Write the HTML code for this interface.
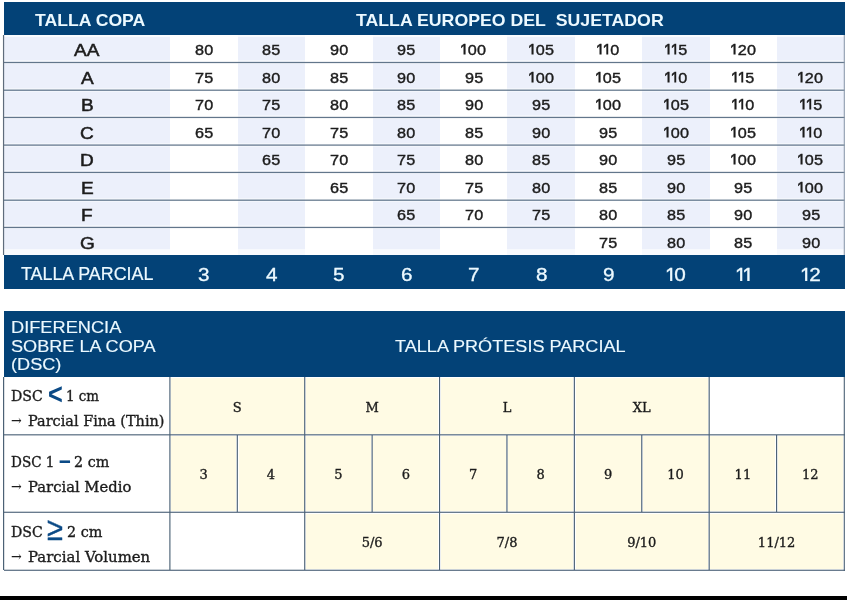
<!DOCTYPE html>
<html lang="es"><head><meta charset="utf-8"><title>Tabla de tallas</title>
<style>
html,body{margin:0;padding:0;background:#fff;}
body{width:847px;height:600px;position:relative;overflow:hidden;font-family:"Liberation Sans",sans-serif;}
.b{position:absolute;}
.t{position:absolute;white-space:pre;transform-origin:0 50%;}
.o,.p{display:inline-block;clip-path:inset(0 0 0.265em 0);transform-origin:50% 15.5%;transform:scaleY(1.18);}
.o{margin:0 -1.3px 0 -1.2px;}
.p{margin:0 -2.0px 0 -1.7px;}
</style></head>
<body>
<div class="b" style="left:3.50px;top:2.00px;width:841.20px;height:33.00px;background:#034277;"></div>
<div class="t" style="left:35.20px;top:12.00px;font-size:16.2px;line-height:16.2px;color:#ecf9ff;font-family:'Liberation Sans', sans-serif;font-weight:bold;transform:scaleX(1.0887);">TALLA COPA</div>
<div class="t" style="left:355.50px;top:12.00px;font-size:16.2px;line-height:16.2px;color:#ecf9ff;font-family:'Liberation Sans', sans-serif;font-weight:bold;transform:scaleX(1.0942);">TALLA EUROPEO DEL&nbsp; SUJETADOR</div>
<div class="b" style="left:3.50px;top:35.00px;width:166.70px;height:220.00px;background:#ecf0fb;"></div>
<div class="b" style="left:237.65px;top:35.00px;width:67.45px;height:220.00px;background:#ecf0fb;"></div>
<div class="b" style="left:372.55px;top:35.00px;width:67.45px;height:220.00px;background:#ecf0fb;"></div>
<div class="b" style="left:507.45px;top:35.00px;width:67.45px;height:220.00px;background:#ecf0fb;"></div>
<div class="b" style="left:642.35px;top:35.00px;width:67.45px;height:220.00px;background:#ecf0fb;"></div>
<div class="b" style="left:777.25px;top:35.00px;width:67.45px;height:220.00px;background:#ecf0fb;"></div>
<div class="b" style="left:3.50px;top:60.00px;width:841.20px;height:2.00px;background:rgba(255,255,255,.4);"></div>
<div class="b" style="left:3.50px;top:63.00px;width:841.20px;height:1.00px;background:rgba(255,255,255,.4);"></div>
<div class="b" style="left:3.50px;top:88.00px;width:841.20px;height:2.00px;background:rgba(255,255,255,.4);"></div>
<div class="b" style="left:3.50px;top:91.00px;width:841.20px;height:1.00px;background:rgba(255,255,255,.4);"></div>
<div class="b" style="left:3.50px;top:115.00px;width:841.20px;height:2.00px;background:rgba(255,255,255,.4);"></div>
<div class="b" style="left:3.50px;top:118.00px;width:841.20px;height:1.00px;background:rgba(255,255,255,.4);"></div>
<div class="b" style="left:3.50px;top:143.00px;width:841.20px;height:2.00px;background:rgba(255,255,255,.4);"></div>
<div class="b" style="left:3.50px;top:146.00px;width:841.20px;height:1.00px;background:rgba(255,255,255,.4);"></div>
<div class="b" style="left:3.50px;top:170.00px;width:841.20px;height:2.00px;background:rgba(255,255,255,.4);"></div>
<div class="b" style="left:3.50px;top:173.00px;width:841.20px;height:1.00px;background:rgba(255,255,255,.4);"></div>
<div class="b" style="left:3.50px;top:198.00px;width:841.20px;height:2.00px;background:rgba(255,255,255,.4);"></div>
<div class="b" style="left:3.50px;top:201.00px;width:841.20px;height:1.00px;background:rgba(255,255,255,.4);"></div>
<div class="b" style="left:3.50px;top:225.00px;width:841.20px;height:2.00px;background:rgba(255,255,255,.4);"></div>
<div class="b" style="left:3.50px;top:228.00px;width:841.20px;height:1.00px;background:rgba(255,255,255,.4);"></div>
<div class="b" style="left:4px;top:61px;width:841px;height:1px;background:rgba(98,118,139,0.12);"></div>
<div class="b" style="left:4px;top:62px;width:841px;height:1px;background:rgba(98,118,139,1.00);"></div>
<div class="b" style="left:4px;top:63px;width:841px;height:1px;background:rgba(98,118,139,0.12);"></div>
<div class="b" style="left:4px;top:89px;width:841px;height:1px;background:rgba(98,118,139,0.42);"></div>
<div class="b" style="left:4px;top:90px;width:841px;height:1px;background:rgba(98,118,139,0.83);"></div>
<div class="b" style="left:4px;top:116px;width:841px;height:1px;background:rgba(98,118,139,0.17);"></div>
<div class="b" style="left:4px;top:117px;width:841px;height:1px;background:rgba(98,118,139,1.00);"></div>
<div class="b" style="left:4px;top:118px;width:841px;height:1px;background:rgba(98,118,139,0.08);"></div>
<div class="b" style="left:4px;top:144px;width:841px;height:1px;background:rgba(98,118,139,0.53);"></div>
<div class="b" style="left:4px;top:145px;width:841px;height:1px;background:rgba(98,118,139,0.72);"></div>
<div class="b" style="left:4px;top:171px;width:841px;height:1px;background:rgba(98,118,139,0.18);"></div>
<div class="b" style="left:4px;top:172px;width:841px;height:1px;background:rgba(98,118,139,1.00);"></div>
<div class="b" style="left:4px;top:173px;width:841px;height:1px;background:rgba(98,118,139,0.07);"></div>
<div class="b" style="left:4px;top:199px;width:841px;height:1px;background:rgba(98,118,139,0.43);"></div>
<div class="b" style="left:4px;top:200px;width:841px;height:1px;background:rgba(98,118,139,0.82);"></div>
<div class="b" style="left:4px;top:226px;width:841px;height:1px;background:rgba(98,118,139,0.18);"></div>
<div class="b" style="left:4px;top:227px;width:841px;height:1px;background:rgba(98,118,139,1.00);"></div>
<div class="b" style="left:4px;top:228px;width:841px;height:1px;background:rgba(98,118,139,0.07);"></div>
<div class="b" style="left:3.50px;top:35.00px;width:841.20px;height:2.00px;background:rgba(255,255,255,.7);"></div>
<div class="b" style="left:3.50px;top:249.00px;width:841.20px;height:6.00px;background:rgba(255,255,255,.6);"></div>
<div class="b" style="left:2px;top:35px;width:1px;height:220px;background:rgba(95,108,124,0.05);"></div>
<div class="b" style="left:3px;top:35px;width:1px;height:220px;background:rgba(95,108,124,1.00);"></div>
<div class="b" style="left:4px;top:35px;width:1px;height:220px;background:rgba(95,108,124,0.15);"></div>
<div class="b" style="left:843px;top:35px;width:1px;height:220px;background:rgba(143,156,173,0.25);"></div>
<div class="b" style="left:844px;top:35px;width:1px;height:220px;background:rgba(143,156,173,0.85);"></div>
<div class="t" style="left:74.46px;top:42.00px;font-size:16.4px;line-height:16.4px;color:#1c1c1c;font-family:'Liberation Sans', sans-serif;transform:scaleX(1.1600);-webkit-text-stroke:0.5px #1c1c1c;">AA</div>
<div class="t" style="left:194.75px;top:42.00px;font-size:15.0px;line-height:15.0px;color:#1c1c1c;font-family:'Liberation Sans', sans-serif;letter-spacing:0.3px;transform:scaleX(1.0800);-webkit-text-stroke:0.4px #1c1c1c;">80</div>
<div class="t" style="left:262.20px;top:42.00px;font-size:15.0px;line-height:15.0px;color:#1c1c1c;font-family:'Liberation Sans', sans-serif;letter-spacing:0.3px;transform:scaleX(1.0800);-webkit-text-stroke:0.4px #1c1c1c;">85</div>
<div class="t" style="left:329.65px;top:42.00px;font-size:15.0px;line-height:15.0px;color:#1c1c1c;font-family:'Liberation Sans', sans-serif;letter-spacing:0.3px;transform:scaleX(1.0800);-webkit-text-stroke:0.4px #1c1c1c;">90</div>
<div class="t" style="left:397.10px;top:42.00px;font-size:15.0px;line-height:15.0px;color:#1c1c1c;font-family:'Liberation Sans', sans-serif;letter-spacing:0.3px;transform:scaleX(1.0800);-webkit-text-stroke:0.4px #1c1c1c;">95</div>
<div class="t" style="left:461.21px;top:42.00px;font-size:15.0px;line-height:15.0px;color:#1c1c1c;font-family:'Liberation Sans', sans-serif;letter-spacing:0.3px;transform:scaleX(1.0800);-webkit-text-stroke:0.4px #1c1c1c;"><span class="o">1</span>00</div>
<div class="t" style="left:528.66px;top:42.00px;font-size:15.0px;line-height:15.0px;color:#1c1c1c;font-family:'Liberation Sans', sans-serif;letter-spacing:0.3px;transform:scaleX(1.0800);-webkit-text-stroke:0.4px #1c1c1c;"><span class="o">1</span>05</div>
<div class="t" style="left:597.45px;top:42.00px;font-size:15.0px;line-height:15.0px;color:#1c1c1c;font-family:'Liberation Sans', sans-serif;letter-spacing:0.3px;transform:scaleX(1.0800);-webkit-text-stroke:0.4px #1c1c1c;"><span class="o">1</span><span class="o">1</span>0</div>
<div class="t" style="left:664.90px;top:42.00px;font-size:15.0px;line-height:15.0px;color:#1c1c1c;font-family:'Liberation Sans', sans-serif;letter-spacing:0.3px;transform:scaleX(1.0800);-webkit-text-stroke:0.4px #1c1c1c;"><span class="o">1</span><span class="o">1</span>5</div>
<div class="t" style="left:731.01px;top:42.00px;font-size:15.0px;line-height:15.0px;color:#1c1c1c;font-family:'Liberation Sans', sans-serif;letter-spacing:0.3px;transform:scaleX(1.0800);-webkit-text-stroke:0.4px #1c1c1c;"><span class="o">1</span>20</div>
<div class="t" style="left:80.81px;top:70.00px;font-size:16.4px;line-height:16.4px;color:#1c1c1c;font-family:'Liberation Sans', sans-serif;transform:scaleX(1.1600);-webkit-text-stroke:0.5px #1c1c1c;">A</div>
<div class="t" style="left:194.75px;top:70.00px;font-size:15.0px;line-height:15.0px;color:#1c1c1c;font-family:'Liberation Sans', sans-serif;letter-spacing:0.3px;transform:scaleX(1.0800);-webkit-text-stroke:0.4px #1c1c1c;">75</div>
<div class="t" style="left:262.20px;top:70.00px;font-size:15.0px;line-height:15.0px;color:#1c1c1c;font-family:'Liberation Sans', sans-serif;letter-spacing:0.3px;transform:scaleX(1.0800);-webkit-text-stroke:0.4px #1c1c1c;">80</div>
<div class="t" style="left:329.65px;top:70.00px;font-size:15.0px;line-height:15.0px;color:#1c1c1c;font-family:'Liberation Sans', sans-serif;letter-spacing:0.3px;transform:scaleX(1.0800);-webkit-text-stroke:0.4px #1c1c1c;">85</div>
<div class="t" style="left:397.10px;top:70.00px;font-size:15.0px;line-height:15.0px;color:#1c1c1c;font-family:'Liberation Sans', sans-serif;letter-spacing:0.3px;transform:scaleX(1.0800);-webkit-text-stroke:0.4px #1c1c1c;">90</div>
<div class="t" style="left:464.55px;top:70.00px;font-size:15.0px;line-height:15.0px;color:#1c1c1c;font-family:'Liberation Sans', sans-serif;letter-spacing:0.3px;transform:scaleX(1.0800);-webkit-text-stroke:0.4px #1c1c1c;">95</div>
<div class="t" style="left:528.66px;top:70.00px;font-size:15.0px;line-height:15.0px;color:#1c1c1c;font-family:'Liberation Sans', sans-serif;letter-spacing:0.3px;transform:scaleX(1.0800);-webkit-text-stroke:0.4px #1c1c1c;"><span class="o">1</span>00</div>
<div class="t" style="left:596.11px;top:70.00px;font-size:15.0px;line-height:15.0px;color:#1c1c1c;font-family:'Liberation Sans', sans-serif;letter-spacing:0.3px;transform:scaleX(1.0800);-webkit-text-stroke:0.4px #1c1c1c;"><span class="o">1</span>05</div>
<div class="t" style="left:664.90px;top:70.00px;font-size:15.0px;line-height:15.0px;color:#1c1c1c;font-family:'Liberation Sans', sans-serif;letter-spacing:0.3px;transform:scaleX(1.0800);-webkit-text-stroke:0.4px #1c1c1c;"><span class="o">1</span><span class="o">1</span>0</div>
<div class="t" style="left:732.35px;top:70.00px;font-size:15.0px;line-height:15.0px;color:#1c1c1c;font-family:'Liberation Sans', sans-serif;letter-spacing:0.3px;transform:scaleX(1.0800);-webkit-text-stroke:0.4px #1c1c1c;"><span class="o">1</span><span class="o">1</span>5</div>
<div class="t" style="left:798.46px;top:70.00px;font-size:15.0px;line-height:15.0px;color:#1c1c1c;font-family:'Liberation Sans', sans-serif;letter-spacing:0.3px;transform:scaleX(1.0800);-webkit-text-stroke:0.4px #1c1c1c;"><span class="o">1</span>20</div>
<div class="t" style="left:80.81px;top:97.00px;font-size:16.4px;line-height:16.4px;color:#1c1c1c;font-family:'Liberation Sans', sans-serif;transform:scaleX(1.1600);-webkit-text-stroke:0.5px #1c1c1c;">B</div>
<div class="t" style="left:194.75px;top:97.00px;font-size:15.0px;line-height:15.0px;color:#1c1c1c;font-family:'Liberation Sans', sans-serif;letter-spacing:0.3px;transform:scaleX(1.0800);-webkit-text-stroke:0.4px #1c1c1c;">70</div>
<div class="t" style="left:262.20px;top:97.00px;font-size:15.0px;line-height:15.0px;color:#1c1c1c;font-family:'Liberation Sans', sans-serif;letter-spacing:0.3px;transform:scaleX(1.0800);-webkit-text-stroke:0.4px #1c1c1c;">75</div>
<div class="t" style="left:329.65px;top:97.00px;font-size:15.0px;line-height:15.0px;color:#1c1c1c;font-family:'Liberation Sans', sans-serif;letter-spacing:0.3px;transform:scaleX(1.0800);-webkit-text-stroke:0.4px #1c1c1c;">80</div>
<div class="t" style="left:397.10px;top:97.00px;font-size:15.0px;line-height:15.0px;color:#1c1c1c;font-family:'Liberation Sans', sans-serif;letter-spacing:0.3px;transform:scaleX(1.0800);-webkit-text-stroke:0.4px #1c1c1c;">85</div>
<div class="t" style="left:464.55px;top:97.00px;font-size:15.0px;line-height:15.0px;color:#1c1c1c;font-family:'Liberation Sans', sans-serif;letter-spacing:0.3px;transform:scaleX(1.0800);-webkit-text-stroke:0.4px #1c1c1c;">90</div>
<div class="t" style="left:532.00px;top:97.00px;font-size:15.0px;line-height:15.0px;color:#1c1c1c;font-family:'Liberation Sans', sans-serif;letter-spacing:0.3px;transform:scaleX(1.0800);-webkit-text-stroke:0.4px #1c1c1c;">95</div>
<div class="t" style="left:596.11px;top:97.00px;font-size:15.0px;line-height:15.0px;color:#1c1c1c;font-family:'Liberation Sans', sans-serif;letter-spacing:0.3px;transform:scaleX(1.0800);-webkit-text-stroke:0.4px #1c1c1c;"><span class="o">1</span>00</div>
<div class="t" style="left:663.56px;top:97.00px;font-size:15.0px;line-height:15.0px;color:#1c1c1c;font-family:'Liberation Sans', sans-serif;letter-spacing:0.3px;transform:scaleX(1.0800);-webkit-text-stroke:0.4px #1c1c1c;"><span class="o">1</span>05</div>
<div class="t" style="left:732.35px;top:97.00px;font-size:15.0px;line-height:15.0px;color:#1c1c1c;font-family:'Liberation Sans', sans-serif;letter-spacing:0.3px;transform:scaleX(1.0800);-webkit-text-stroke:0.4px #1c1c1c;"><span class="o">1</span><span class="o">1</span>0</div>
<div class="t" style="left:799.80px;top:97.00px;font-size:15.0px;line-height:15.0px;color:#1c1c1c;font-family:'Liberation Sans', sans-serif;letter-spacing:0.3px;transform:scaleX(1.0800);-webkit-text-stroke:0.4px #1c1c1c;"><span class="o">1</span><span class="o">1</span>5</div>
<div class="t" style="left:80.28px;top:125.00px;font-size:16.4px;line-height:16.4px;color:#1c1c1c;font-family:'Liberation Sans', sans-serif;transform:scaleX(1.1600);-webkit-text-stroke:0.5px #1c1c1c;">C</div>
<div class="t" style="left:194.75px;top:125.00px;font-size:15.0px;line-height:15.0px;color:#1c1c1c;font-family:'Liberation Sans', sans-serif;letter-spacing:0.3px;transform:scaleX(1.0800);-webkit-text-stroke:0.4px #1c1c1c;">65</div>
<div class="t" style="left:262.20px;top:125.00px;font-size:15.0px;line-height:15.0px;color:#1c1c1c;font-family:'Liberation Sans', sans-serif;letter-spacing:0.3px;transform:scaleX(1.0800);-webkit-text-stroke:0.4px #1c1c1c;">70</div>
<div class="t" style="left:329.65px;top:125.00px;font-size:15.0px;line-height:15.0px;color:#1c1c1c;font-family:'Liberation Sans', sans-serif;letter-spacing:0.3px;transform:scaleX(1.0800);-webkit-text-stroke:0.4px #1c1c1c;">75</div>
<div class="t" style="left:397.10px;top:125.00px;font-size:15.0px;line-height:15.0px;color:#1c1c1c;font-family:'Liberation Sans', sans-serif;letter-spacing:0.3px;transform:scaleX(1.0800);-webkit-text-stroke:0.4px #1c1c1c;">80</div>
<div class="t" style="left:464.55px;top:125.00px;font-size:15.0px;line-height:15.0px;color:#1c1c1c;font-family:'Liberation Sans', sans-serif;letter-spacing:0.3px;transform:scaleX(1.0800);-webkit-text-stroke:0.4px #1c1c1c;">85</div>
<div class="t" style="left:532.00px;top:125.00px;font-size:15.0px;line-height:15.0px;color:#1c1c1c;font-family:'Liberation Sans', sans-serif;letter-spacing:0.3px;transform:scaleX(1.0800);-webkit-text-stroke:0.4px #1c1c1c;">90</div>
<div class="t" style="left:599.45px;top:125.00px;font-size:15.0px;line-height:15.0px;color:#1c1c1c;font-family:'Liberation Sans', sans-serif;letter-spacing:0.3px;transform:scaleX(1.0800);-webkit-text-stroke:0.4px #1c1c1c;">95</div>
<div class="t" style="left:663.56px;top:125.00px;font-size:15.0px;line-height:15.0px;color:#1c1c1c;font-family:'Liberation Sans', sans-serif;letter-spacing:0.3px;transform:scaleX(1.0800);-webkit-text-stroke:0.4px #1c1c1c;"><span class="o">1</span>00</div>
<div class="t" style="left:731.01px;top:125.00px;font-size:15.0px;line-height:15.0px;color:#1c1c1c;font-family:'Liberation Sans', sans-serif;letter-spacing:0.3px;transform:scaleX(1.0800);-webkit-text-stroke:0.4px #1c1c1c;"><span class="o">1</span>05</div>
<div class="t" style="left:799.80px;top:125.00px;font-size:15.0px;line-height:15.0px;color:#1c1c1c;font-family:'Liberation Sans', sans-serif;letter-spacing:0.3px;transform:scaleX(1.0800);-webkit-text-stroke:0.4px #1c1c1c;"><span class="o">1</span><span class="o">1</span>0</div>
<div class="t" style="left:80.28px;top:152.00px;font-size:16.4px;line-height:16.4px;color:#1c1c1c;font-family:'Liberation Sans', sans-serif;transform:scaleX(1.1600);-webkit-text-stroke:0.5px #1c1c1c;">D</div>
<div class="t" style="left:262.20px;top:152.00px;font-size:15.0px;line-height:15.0px;color:#1c1c1c;font-family:'Liberation Sans', sans-serif;letter-spacing:0.3px;transform:scaleX(1.0800);-webkit-text-stroke:0.4px #1c1c1c;">65</div>
<div class="t" style="left:329.65px;top:152.00px;font-size:15.0px;line-height:15.0px;color:#1c1c1c;font-family:'Liberation Sans', sans-serif;letter-spacing:0.3px;transform:scaleX(1.0800);-webkit-text-stroke:0.4px #1c1c1c;">70</div>
<div class="t" style="left:397.10px;top:152.00px;font-size:15.0px;line-height:15.0px;color:#1c1c1c;font-family:'Liberation Sans', sans-serif;letter-spacing:0.3px;transform:scaleX(1.0800);-webkit-text-stroke:0.4px #1c1c1c;">75</div>
<div class="t" style="left:464.55px;top:152.00px;font-size:15.0px;line-height:15.0px;color:#1c1c1c;font-family:'Liberation Sans', sans-serif;letter-spacing:0.3px;transform:scaleX(1.0800);-webkit-text-stroke:0.4px #1c1c1c;">80</div>
<div class="t" style="left:532.00px;top:152.00px;font-size:15.0px;line-height:15.0px;color:#1c1c1c;font-family:'Liberation Sans', sans-serif;letter-spacing:0.3px;transform:scaleX(1.0800);-webkit-text-stroke:0.4px #1c1c1c;">85</div>
<div class="t" style="left:599.45px;top:152.00px;font-size:15.0px;line-height:15.0px;color:#1c1c1c;font-family:'Liberation Sans', sans-serif;letter-spacing:0.3px;transform:scaleX(1.0800);-webkit-text-stroke:0.4px #1c1c1c;">90</div>
<div class="t" style="left:666.90px;top:152.00px;font-size:15.0px;line-height:15.0px;color:#1c1c1c;font-family:'Liberation Sans', sans-serif;letter-spacing:0.3px;transform:scaleX(1.0800);-webkit-text-stroke:0.4px #1c1c1c;">95</div>
<div class="t" style="left:731.01px;top:152.00px;font-size:15.0px;line-height:15.0px;color:#1c1c1c;font-family:'Liberation Sans', sans-serif;letter-spacing:0.3px;transform:scaleX(1.0800);-webkit-text-stroke:0.4px #1c1c1c;"><span class="o">1</span>00</div>
<div class="t" style="left:798.46px;top:152.00px;font-size:15.0px;line-height:15.0px;color:#1c1c1c;font-family:'Liberation Sans', sans-serif;letter-spacing:0.3px;transform:scaleX(1.0800);-webkit-text-stroke:0.4px #1c1c1c;"><span class="o">1</span>05</div>
<div class="t" style="left:80.81px;top:180.00px;font-size:16.4px;line-height:16.4px;color:#1c1c1c;font-family:'Liberation Sans', sans-serif;transform:scaleX(1.1600);-webkit-text-stroke:0.5px #1c1c1c;">E</div>
<div class="t" style="left:329.65px;top:180.00px;font-size:15.0px;line-height:15.0px;color:#1c1c1c;font-family:'Liberation Sans', sans-serif;letter-spacing:0.3px;transform:scaleX(1.0800);-webkit-text-stroke:0.4px #1c1c1c;">65</div>
<div class="t" style="left:397.10px;top:180.00px;font-size:15.0px;line-height:15.0px;color:#1c1c1c;font-family:'Liberation Sans', sans-serif;letter-spacing:0.3px;transform:scaleX(1.0800);-webkit-text-stroke:0.4px #1c1c1c;">70</div>
<div class="t" style="left:464.55px;top:180.00px;font-size:15.0px;line-height:15.0px;color:#1c1c1c;font-family:'Liberation Sans', sans-serif;letter-spacing:0.3px;transform:scaleX(1.0800);-webkit-text-stroke:0.4px #1c1c1c;">75</div>
<div class="t" style="left:532.00px;top:180.00px;font-size:15.0px;line-height:15.0px;color:#1c1c1c;font-family:'Liberation Sans', sans-serif;letter-spacing:0.3px;transform:scaleX(1.0800);-webkit-text-stroke:0.4px #1c1c1c;">80</div>
<div class="t" style="left:599.45px;top:180.00px;font-size:15.0px;line-height:15.0px;color:#1c1c1c;font-family:'Liberation Sans', sans-serif;letter-spacing:0.3px;transform:scaleX(1.0800);-webkit-text-stroke:0.4px #1c1c1c;">85</div>
<div class="t" style="left:666.90px;top:180.00px;font-size:15.0px;line-height:15.0px;color:#1c1c1c;font-family:'Liberation Sans', sans-serif;letter-spacing:0.3px;transform:scaleX(1.0800);-webkit-text-stroke:0.4px #1c1c1c;">90</div>
<div class="t" style="left:734.35px;top:180.00px;font-size:15.0px;line-height:15.0px;color:#1c1c1c;font-family:'Liberation Sans', sans-serif;letter-spacing:0.3px;transform:scaleX(1.0800);-webkit-text-stroke:0.4px #1c1c1c;">95</div>
<div class="t" style="left:798.46px;top:180.00px;font-size:15.0px;line-height:15.0px;color:#1c1c1c;font-family:'Liberation Sans', sans-serif;letter-spacing:0.3px;transform:scaleX(1.0800);-webkit-text-stroke:0.4px #1c1c1c;"><span class="o">1</span>00</div>
<div class="t" style="left:81.34px;top:207.00px;font-size:16.4px;line-height:16.4px;color:#1c1c1c;font-family:'Liberation Sans', sans-serif;transform:scaleX(1.1600);-webkit-text-stroke:0.5px #1c1c1c;">F</div>
<div class="t" style="left:397.10px;top:207.00px;font-size:15.0px;line-height:15.0px;color:#1c1c1c;font-family:'Liberation Sans', sans-serif;letter-spacing:0.3px;transform:scaleX(1.0800);-webkit-text-stroke:0.4px #1c1c1c;">65</div>
<div class="t" style="left:464.55px;top:207.00px;font-size:15.0px;line-height:15.0px;color:#1c1c1c;font-family:'Liberation Sans', sans-serif;letter-spacing:0.3px;transform:scaleX(1.0800);-webkit-text-stroke:0.4px #1c1c1c;">70</div>
<div class="t" style="left:532.00px;top:207.00px;font-size:15.0px;line-height:15.0px;color:#1c1c1c;font-family:'Liberation Sans', sans-serif;letter-spacing:0.3px;transform:scaleX(1.0800);-webkit-text-stroke:0.4px #1c1c1c;">75</div>
<div class="t" style="left:599.45px;top:207.00px;font-size:15.0px;line-height:15.0px;color:#1c1c1c;font-family:'Liberation Sans', sans-serif;letter-spacing:0.3px;transform:scaleX(1.0800);-webkit-text-stroke:0.4px #1c1c1c;">80</div>
<div class="t" style="left:666.90px;top:207.00px;font-size:15.0px;line-height:15.0px;color:#1c1c1c;font-family:'Liberation Sans', sans-serif;letter-spacing:0.3px;transform:scaleX(1.0800);-webkit-text-stroke:0.4px #1c1c1c;">85</div>
<div class="t" style="left:734.35px;top:207.00px;font-size:15.0px;line-height:15.0px;color:#1c1c1c;font-family:'Liberation Sans', sans-serif;letter-spacing:0.3px;transform:scaleX(1.0800);-webkit-text-stroke:0.4px #1c1c1c;">90</div>
<div class="t" style="left:801.80px;top:207.00px;font-size:15.0px;line-height:15.0px;color:#1c1c1c;font-family:'Liberation Sans', sans-serif;letter-spacing:0.3px;transform:scaleX(1.0800);-webkit-text-stroke:0.4px #1c1c1c;">95</div>
<div class="t" style="left:79.75px;top:235.00px;font-size:16.4px;line-height:16.4px;color:#1c1c1c;font-family:'Liberation Sans', sans-serif;transform:scaleX(1.1600);-webkit-text-stroke:0.5px #1c1c1c;">G</div>
<div class="t" style="left:599.45px;top:235.00px;font-size:15.0px;line-height:15.0px;color:#1c1c1c;font-family:'Liberation Sans', sans-serif;letter-spacing:0.3px;transform:scaleX(1.0800);-webkit-text-stroke:0.4px #1c1c1c;">75</div>
<div class="t" style="left:666.90px;top:235.00px;font-size:15.0px;line-height:15.0px;color:#1c1c1c;font-family:'Liberation Sans', sans-serif;letter-spacing:0.3px;transform:scaleX(1.0800);-webkit-text-stroke:0.4px #1c1c1c;">80</div>
<div class="t" style="left:734.35px;top:235.00px;font-size:15.0px;line-height:15.0px;color:#1c1c1c;font-family:'Liberation Sans', sans-serif;letter-spacing:0.3px;transform:scaleX(1.0800);-webkit-text-stroke:0.4px #1c1c1c;">85</div>
<div class="t" style="left:801.80px;top:235.00px;font-size:15.0px;line-height:15.0px;color:#1c1c1c;font-family:'Liberation Sans', sans-serif;letter-spacing:0.3px;transform:scaleX(1.0800);-webkit-text-stroke:0.4px #1c1c1c;">90</div>
<div class="b" style="left:3.50px;top:255.00px;width:841.20px;height:34.30px;background:#034277;"></div>
<div class="t" style="left:20.60px;top:265.00px;font-size:18px;line-height:18px;color:#ecf9ff;font-family:'Liberation Sans', sans-serif;transform:scaleX(0.9925);-webkit-text-stroke:0.2px #ecf9ff;">TALLA PARCIAL</div>
<div class="t" style="left:198.47px;top:266.00px;font-size:18px;line-height:18px;color:#ecf9ff;font-family:'Liberation Sans', sans-serif;transform:scaleX(1.1500);-webkit-text-stroke:0.3px #ecf9ff;">3</div>
<div class="t" style="left:265.92px;top:266.00px;font-size:18px;line-height:18px;color:#ecf9ff;font-family:'Liberation Sans', sans-serif;transform:scaleX(1.1500);-webkit-text-stroke:0.3px #ecf9ff;">4</div>
<div class="t" style="left:333.37px;top:266.00px;font-size:18px;line-height:18px;color:#ecf9ff;font-family:'Liberation Sans', sans-serif;transform:scaleX(1.1500);-webkit-text-stroke:0.3px #ecf9ff;">5</div>
<div class="t" style="left:400.82px;top:266.00px;font-size:18px;line-height:18px;color:#ecf9ff;font-family:'Liberation Sans', sans-serif;transform:scaleX(1.1500);-webkit-text-stroke:0.3px #ecf9ff;">6</div>
<div class="t" style="left:468.27px;top:266.00px;font-size:18px;line-height:18px;color:#ecf9ff;font-family:'Liberation Sans', sans-serif;transform:scaleX(1.1500);-webkit-text-stroke:0.3px #ecf9ff;">7</div>
<div class="t" style="left:535.72px;top:266.00px;font-size:18px;line-height:18px;color:#ecf9ff;font-family:'Liberation Sans', sans-serif;transform:scaleX(1.1500);-webkit-text-stroke:0.3px #ecf9ff;">8</div>
<div class="t" style="left:603.17px;top:266.00px;font-size:18px;line-height:18px;color:#ecf9ff;font-family:'Liberation Sans', sans-serif;transform:scaleX(1.1500);-webkit-text-stroke:0.3px #ecf9ff;">9</div>
<div class="t" style="left:666.98px;top:266.00px;font-size:18px;line-height:18px;color:#ecf9ff;font-family:'Liberation Sans', sans-serif;transform:scaleX(1.1500);-webkit-text-stroke:0.3px #ecf9ff;"><span class="p">1</span>0</div>
<div class="t" style="left:736.55px;top:266.00px;font-size:18px;line-height:18px;color:#ecf9ff;font-family:'Liberation Sans', sans-serif;transform:scaleX(1.1500);-webkit-text-stroke:0.3px #ecf9ff;"><span class="p">1</span><span class="p">1</span></div>
<div class="t" style="left:801.88px;top:266.00px;font-size:18px;line-height:18px;color:#ecf9ff;font-family:'Liberation Sans', sans-serif;transform:scaleX(1.1500);-webkit-text-stroke:0.3px #ecf9ff;"><span class="p">1</span>2</div>
<div class="b" style="left:3.50px;top:310.80px;width:841.20px;height:66.10px;background:#034277;"></div>
<div class="t" style="left:11.20px;top:320.00px;font-size:16.0px;line-height:16.0px;color:#ecf9ff;font-family:'Liberation Sans', sans-serif;transform:scaleX(1.1382);-webkit-text-stroke:0.15px #ecf9ff;">DIFERENCIA</div>
<div class="t" style="left:11.20px;top:339.00px;font-size:16.0px;line-height:16.0px;color:#ecf9ff;font-family:'Liberation Sans', sans-serif;transform:scaleX(1.1319);-webkit-text-stroke:0.15px #ecf9ff;">SOBRE LA COPA</div>
<div class="t" style="left:11.20px;top:357.00px;font-size:16.0px;line-height:16.0px;color:#ecf9ff;font-family:'Liberation Sans', sans-serif;transform:scaleX(1.1342);-webkit-text-stroke:0.15px #ecf9ff;">(DSC)</div>
<div class="t" style="left:394.90px;top:338.00px;font-size:17.4px;line-height:17.4px;color:#ecf9ff;font-family:'Liberation Sans', sans-serif;transform:scaleX(1.0403);-webkit-text-stroke:0.15px #ecf9ff;">TALLA PRÓTESIS PARCIAL</div>
<div class="b" style="left:171.10px;top:377.50px;width:132.42px;height:56.10px;background:#fffbe4;"></div>
<div class="b" style="left:305.92px;top:377.50px;width:132.42px;height:56.10px;background:#fffbe4;"></div>
<div class="b" style="left:440.74px;top:377.50px;width:132.42px;height:56.10px;background:#fffbe4;"></div>
<div class="b" style="left:575.56px;top:377.50px;width:132.42px;height:56.10px;background:#fffbe4;"></div>
<div class="b" style="left:171.10px;top:436.00px;width:65.01px;height:75.10px;background:#fffbe4;"></div>
<div class="b" style="left:238.51px;top:436.00px;width:65.01px;height:75.10px;background:#fffbe4;"></div>
<div class="b" style="left:305.92px;top:436.00px;width:65.01px;height:75.10px;background:#fffbe4;"></div>
<div class="b" style="left:373.33px;top:436.00px;width:65.01px;height:75.10px;background:#fffbe4;"></div>
<div class="b" style="left:440.74px;top:436.00px;width:65.01px;height:75.10px;background:#fffbe4;"></div>
<div class="b" style="left:508.15px;top:436.00px;width:65.01px;height:75.10px;background:#fffbe4;"></div>
<div class="b" style="left:575.56px;top:436.00px;width:65.01px;height:75.10px;background:#fffbe4;"></div>
<div class="b" style="left:642.97px;top:436.00px;width:65.01px;height:75.10px;background:#fffbe4;"></div>
<div class="b" style="left:710.38px;top:436.00px;width:65.01px;height:75.10px;background:#fffbe4;"></div>
<div class="b" style="left:777.79px;top:436.00px;width:65.01px;height:75.10px;background:#fffbe4;"></div>
<div class="b" style="left:305.92px;top:513.50px;width:132.42px;height:55.60px;background:#fffbe4;"></div>
<div class="b" style="left:440.74px;top:513.50px;width:132.42px;height:55.60px;background:#fffbe4;"></div>
<div class="b" style="left:575.56px;top:513.50px;width:132.42px;height:55.60px;background:#fffbe4;"></div>
<div class="b" style="left:710.38px;top:513.50px;width:132.42px;height:55.60px;background:#fffbe4;"></div>
<div class="b" style="left:4px;top:434px;width:841px;height:1px;background:rgba(92,112,132,0.82);"></div>
<div class="b" style="left:4px;top:435px;width:841px;height:1px;background:rgba(92,112,132,0.43);"></div>
<div class="b" style="left:4px;top:511px;width:841px;height:1px;background:rgba(92,112,132,0.33);"></div>
<div class="b" style="left:4px;top:512px;width:841px;height:1px;background:rgba(92,112,132,0.92);"></div>
<div class="b" style="left:4px;top:569px;width:841px;height:1px;background:rgba(92,112,132,0.33);"></div>
<div class="b" style="left:4px;top:570px;width:841px;height:1px;background:rgba(92,112,132,0.92);"></div>
<div class="b" style="left:3px;top:377px;width:1px;height:193px;background:rgba(75,97,117,1.00);"></div>
<div class="b" style="left:4px;top:377px;width:1px;height:193px;background:rgba(75,97,117,0.20);"></div>
<div class="b" style="left:843px;top:377px;width:1px;height:194px;background:rgba(75,97,117,0.25);"></div>
<div class="b" style="left:844px;top:377px;width:1px;height:194px;background:rgba(75,97,117,0.85);"></div>
<div class="b" style="left:169px;top:377px;width:1px;height:193px;background:rgba(75,97,117,0.67);"></div>
<div class="b" style="left:170px;top:377px;width:1px;height:193px;background:rgba(75,97,117,0.47);"></div>
<div class="b" style="left:304px;top:377px;width:1px;height:193px;background:rgba(75,97,117,0.85);"></div>
<div class="b" style="left:305px;top:377px;width:1px;height:193px;background:rgba(75,97,117,0.30);"></div>
<div class="b" style="left:439px;top:377px;width:1px;height:193px;background:rgba(75,97,117,1.00);"></div>
<div class="b" style="left:440px;top:377px;width:1px;height:193px;background:rgba(75,97,117,0.11);"></div>
<div class="b" style="left:573px;top:377px;width:1px;height:193px;background:rgba(75,97,117,0.22);"></div>
<div class="b" style="left:574px;top:377px;width:1px;height:193px;background:rgba(75,97,117,0.94);"></div>
<div class="b" style="left:708px;top:377px;width:1px;height:193px;background:rgba(75,97,117,0.40);"></div>
<div class="b" style="left:709px;top:377px;width:1px;height:193px;background:rgba(75,97,117,0.75);"></div>
<div class="b" style="left:236px;top:435px;width:1px;height:77px;background:rgba(75,97,117,0.26);"></div>
<div class="b" style="left:237px;top:435px;width:1px;height:77px;background:rgba(75,97,117,0.88);"></div>
<div class="b" style="left:371px;top:435px;width:1px;height:77px;background:rgba(75,97,117,0.44);"></div>
<div class="b" style="left:372px;top:435px;width:1px;height:77px;background:rgba(75,97,117,0.70);"></div>
<div class="b" style="left:506px;top:435px;width:1px;height:77px;background:rgba(75,97,117,0.63);"></div>
<div class="b" style="left:507px;top:435px;width:1px;height:77px;background:rgba(75,97,117,0.52);"></div>
<div class="b" style="left:641px;top:435px;width:1px;height:77px;background:rgba(75,97,117,0.81);"></div>
<div class="b" style="left:642px;top:435px;width:1px;height:77px;background:rgba(75,97,117,0.35);"></div>
<div class="b" style="left:776px;top:435px;width:1px;height:77px;background:rgba(75,97,117,0.99);"></div>
<div class="b" style="left:777px;top:435px;width:1px;height:77px;background:rgba(75,97,117,0.16);"></div>
<div class="t" style="left:232.86px;top:401.00px;font-size:13px;line-height:13px;color:#1c1c1c;font-family:'DejaVu Serif', 'Liberation Serif', serif;-webkit-text-stroke:0.35px #1c1c1c;">S</div>
<div class="t" style="left:365.47px;top:401.00px;font-size:13px;line-height:13px;color:#1c1c1c;font-family:'DejaVu Serif', 'Liberation Serif', serif;-webkit-text-stroke:0.35px #1c1c1c;">M</div>
<div class="t" style="left:502.63px;top:401.00px;font-size:13px;line-height:13px;color:#1c1c1c;font-family:'DejaVu Serif', 'Liberation Serif', serif;-webkit-text-stroke:0.35px #1c1c1c;">L</div>
<div class="t" style="left:632.82px;top:401.00px;font-size:13px;line-height:13px;color:#1c1c1c;font-family:'DejaVu Serif', 'Liberation Serif', serif;-webkit-text-stroke:0.35px #1c1c1c;">XL</div>
<div class="t" style="left:199.46px;top:468.00px;font-size:13px;line-height:13px;color:#1c1c1c;font-family:'DejaVu Serif', 'Liberation Serif', serif;-webkit-text-stroke:0.35px #1c1c1c;">3</div>
<div class="t" style="left:266.87px;top:468.00px;font-size:13px;line-height:13px;color:#1c1c1c;font-family:'DejaVu Serif', 'Liberation Serif', serif;-webkit-text-stroke:0.35px #1c1c1c;">4</div>
<div class="t" style="left:334.28px;top:468.00px;font-size:13px;line-height:13px;color:#1c1c1c;font-family:'DejaVu Serif', 'Liberation Serif', serif;-webkit-text-stroke:0.35px #1c1c1c;">5</div>
<div class="t" style="left:401.69px;top:468.00px;font-size:13px;line-height:13px;color:#1c1c1c;font-family:'DejaVu Serif', 'Liberation Serif', serif;-webkit-text-stroke:0.35px #1c1c1c;">6</div>
<div class="t" style="left:469.10px;top:468.00px;font-size:13px;line-height:13px;color:#1c1c1c;font-family:'DejaVu Serif', 'Liberation Serif', serif;-webkit-text-stroke:0.35px #1c1c1c;">7</div>
<div class="t" style="left:536.51px;top:468.00px;font-size:13px;line-height:13px;color:#1c1c1c;font-family:'DejaVu Serif', 'Liberation Serif', serif;-webkit-text-stroke:0.35px #1c1c1c;">8</div>
<div class="t" style="left:603.92px;top:468.00px;font-size:13px;line-height:13px;color:#1c1c1c;font-family:'DejaVu Serif', 'Liberation Serif', serif;-webkit-text-stroke:0.35px #1c1c1c;">9</div>
<div class="t" style="left:667.20px;top:468.00px;font-size:13px;line-height:13px;color:#1c1c1c;font-family:'DejaVu Serif', 'Liberation Serif', serif;-webkit-text-stroke:0.35px #1c1c1c;">10</div>
<div class="t" style="left:734.61px;top:468.00px;font-size:13px;line-height:13px;color:#1c1c1c;font-family:'DejaVu Serif', 'Liberation Serif', serif;-webkit-text-stroke:0.35px #1c1c1c;">11</div>
<div class="t" style="left:802.02px;top:468.00px;font-size:13px;line-height:13px;color:#1c1c1c;font-family:'DejaVu Serif', 'Liberation Serif', serif;-webkit-text-stroke:0.35px #1c1c1c;">12</div>
<div class="t" style="left:361.67px;top:536.00px;font-size:13px;line-height:13px;color:#1c1c1c;font-family:'DejaVu Serif', 'Liberation Serif', serif;-webkit-text-stroke:0.35px #1c1c1c;">5/6</div>
<div class="t" style="left:496.49px;top:536.00px;font-size:13px;line-height:13px;color:#1c1c1c;font-family:'DejaVu Serif', 'Liberation Serif', serif;-webkit-text-stroke:0.35px #1c1c1c;">7/8</div>
<div class="t" style="left:627.17px;top:536.00px;font-size:13px;line-height:13px;color:#1c1c1c;font-family:'DejaVu Serif', 'Liberation Serif', serif;-webkit-text-stroke:0.35px #1c1c1c;">9/10</div>
<div class="t" style="left:757.86px;top:536.00px;font-size:13px;line-height:13px;color:#1c1c1c;font-family:'DejaVu Serif', 'Liberation Serif', serif;-webkit-text-stroke:0.35px #1c1c1c;">11/12</div>
<div class="t" style="left:11.30px;top:389.00px;font-size:14.5px;line-height:14.5px;color:#1c1c1c;font-family:'DejaVu Serif', 'Liberation Serif', serif;transform:scaleX(0.9738);-webkit-text-stroke:0.35px #1c1c1c;">DSC</div>
<div class="t" style="left:47.59px;top:379.95px;font-size:28.79px;line-height:28.79px;color:#0b4a86;font-family:'Liberation Sans';transform-origin:0 0;transform:scaleX(0.8805);font-weight:bold;">&lt;</div>
<div class="t" style="left:65.70px;top:389.00px;font-size:14.5px;line-height:14.5px;color:#1c1c1c;font-family:'DejaVu Serif', 'Liberation Serif', serif;transform:scaleX(0.9267);-webkit-text-stroke:0.35px #1c1c1c;">1 cm</div>
<div class="t" style="left:10.60px;top:414.40px;font-size:13.66px;line-height:13.66px;color:#1c1c1c;font-family:'DejaVu Serif';transform-origin:0 0;transform:scaleX(0.9336);">→</div>
<div class="t" style="left:27.80px;top:414.00px;font-size:14.5px;line-height:14.5px;color:#1c1c1c;font-family:'DejaVu Serif', 'Liberation Serif', serif;transform:scaleX(0.9969);-webkit-text-stroke:0.35px #1c1c1c;">Parcial Fina (Thin)</div>
<div class="t" style="left:11.30px;top:455.00px;font-size:14.5px;line-height:14.5px;color:#1c1c1c;font-family:'DejaVu Serif', 'Liberation Serif', serif;transform:scaleX(0.9355);-webkit-text-stroke:0.35px #1c1c1c;">DSC 1</div>
<div class="t" style="left:58.87px;top:447.88px;font-size:25.00px;line-height:25.00px;color:#0b4a86;font-family:'Liberation Sans';transform-origin:0 0;transform:scaleX(0.8404);font-weight:bold;">–</div>
<div class="t" style="left:74.00px;top:455.00px;font-size:14.5px;line-height:14.5px;color:#1c1c1c;font-family:'DejaVu Serif', 'Liberation Serif', serif;transform:scaleX(0.9855);-webkit-text-stroke:0.35px #1c1c1c;">2 cm</div>
<div class="t" style="left:10.60px;top:480.00px;font-size:13.66px;line-height:13.66px;color:#1c1c1c;font-family:'DejaVu Serif';transform-origin:0 0;transform:scaleX(0.9336);">→</div>
<div class="t" style="left:28.00px;top:480.00px;font-size:14.5px;line-height:14.5px;color:#1c1c1c;font-family:'DejaVu Serif', 'Liberation Serif', serif;transform:scaleX(1.0185);-webkit-text-stroke:0.35px #1c1c1c;">Parcial Medio</div>
<div class="t" style="left:11.30px;top:525.00px;font-size:14.5px;line-height:14.5px;color:#1c1c1c;font-family:'DejaVu Serif', 'Liberation Serif', serif;transform:scaleX(0.9738);-webkit-text-stroke:0.35px #1c1c1c;">DSC</div>
<div class="t" style="left:47.33px;top:512.70px;font-size:32.67px;line-height:32.67px;color:#0b4a86;font-family:'Liberation Sans';transform-origin:0 0;transform:scaleX(0.8900);-webkit-text-stroke:0.4px #0b4a86;">≥</div>
<div class="t" style="left:67.00px;top:525.00px;font-size:14.5px;line-height:14.5px;color:#1c1c1c;font-family:'DejaVu Serif', 'Liberation Serif', serif;transform:scaleX(0.9911);-webkit-text-stroke:0.35px #1c1c1c;">2 cm</div>
<div class="t" style="left:10.60px;top:549.80px;font-size:13.66px;line-height:13.66px;color:#1c1c1c;font-family:'DejaVu Serif';transform-origin:0 0;transform:scaleX(0.9336);">→</div>
<div class="t" style="left:28.00px;top:550.00px;font-size:14.5px;line-height:14.5px;color:#1c1c1c;font-family:'DejaVu Serif', 'Liberation Serif', serif;transform:scaleX(1.0281);-webkit-text-stroke:0.35px #1c1c1c;">Parcial Volumen</div>
<div class="b" style="left:0.00px;top:596.00px;width:847.00px;height:4.00px;background:#000;"></div>
</body></html>
